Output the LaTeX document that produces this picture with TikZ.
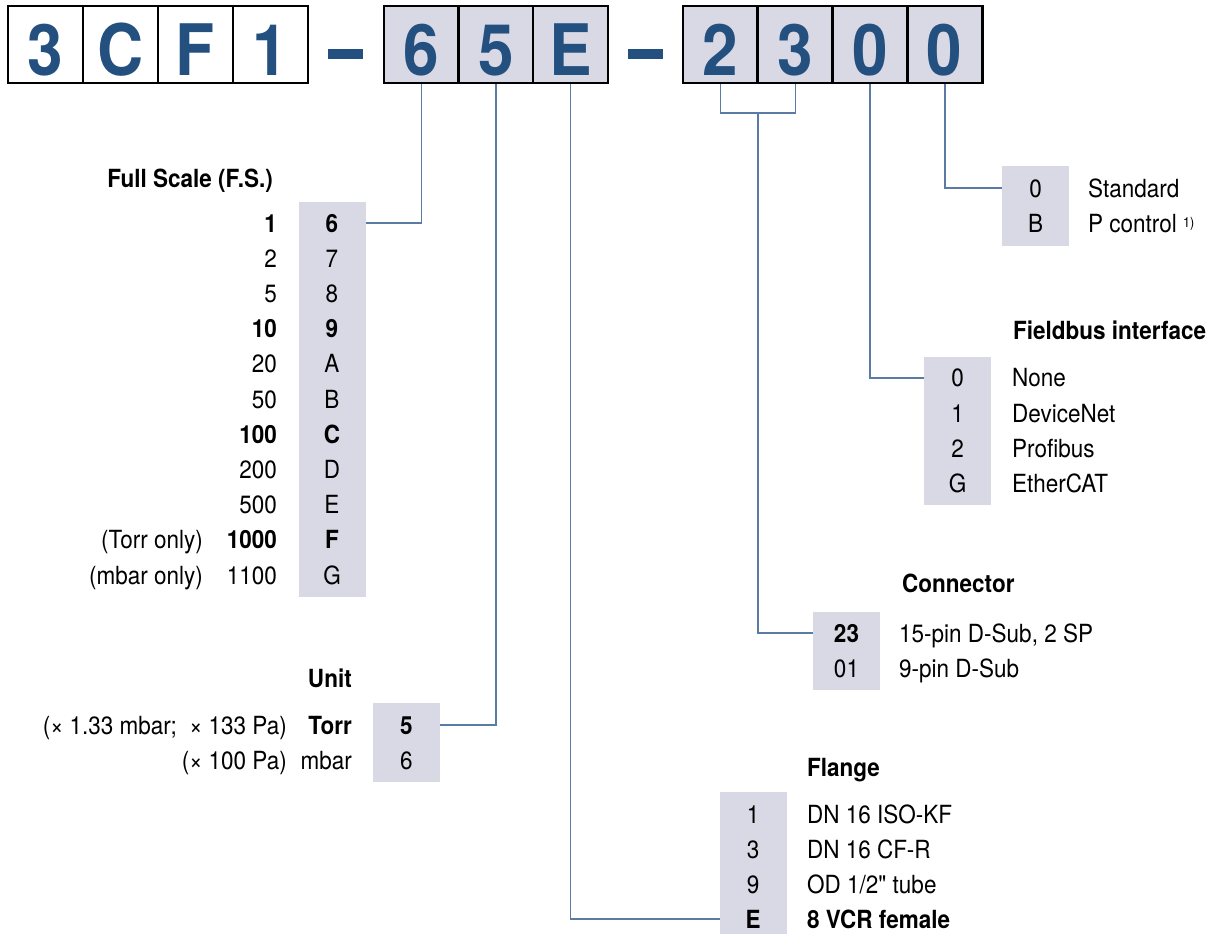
\documentclass[tikz,border=0pt]{standalone}
\usepackage{fontspec}
\setmainfont{TeX Gyre Heros}[FakeStretch=0.9]
\newfontfamily\rawfont{TeX Gyre Heros}[FakeStretch=0.9,Ligatures=TeXOff]
\definecolor{codeblue}{HTML}{23507F}
\definecolor{boxfill}{HTML}{D9D8E5}
\definecolor{leadblue}{HTML}{5A7BA5}

\begin{document}
\fontsize{25}{30}\selectfont
\begin{tikzpicture}[x=1pt,y=-1pt,
  hbox/.style={draw,line width=2.6pt,minimum width=75pt,minimum height=77pt,inner sep=0pt,
    text height=63pt,text depth=0pt,text=codeblue,font=\fontsize{71}{71}\selectfont\bfseries},
  optbox/.style={fill=boxfill,inner sep=0pt,minimum width=67pt,anchor=north west},
  row/.style={inner sep=0pt,text height=18pt,text depth=0pt},
  head/.style={row,font=\bfseries},
  lead/.style={leadblue,line width=1.5pt}]
\useasboundingbox (0,0) rectangle (1213,934);

% order code
\foreach \d [count=\i] in {3,C,F,1}
  \node[hbox,fill=white] (h\i) at ({-29.5+75*\i},44.5) {\d};
\foreach \d [count=\i from 5] in {6,5,E}
  \node[hbox,fill=boxfill] (h\i) at ({421.5+74.5*(\i-5)},44.5) {\d};
\foreach \d [count=\i from 8] in {2,3,0,0}
  \node[hbox,fill=boxfill] (h\i) at ({720.5+74.75*(\i-8)},44.5) {\d};
\draw[codeblue,line width=10pt] (328,54) -- (363,54);
\draw[codeblue,line width=10pt] (628,54) -- (663,54);

% full scale
\node[head,anchor=east] (fstitle) at (273,178) {Full Scale (F.S.)};
\node[optbox,minimum height=395pt] (fsbox) at (299,202) {};
\foreach \v/\c/\f [count=\i] in {1/6/\bfseries,2/7/\mdseries,5/8/\mdseries,10/9/\bfseries,
    20/A/\mdseries,50/B/\mdseries,100/C/\bfseries,200/D/\mdseries,500/E/\mdseries,
    1000/F/\bfseries,1100/G/\mdseries} {
  \node[row,font=\f] (fsc\i) at (332,{187.8+35.2*\i}) {\c};
  \node[row,font=\f,anchor=east] (fsv\i) at (277,{187.8+35.2*\i}) {\v};
}
\node[row,anchor=east] (fsn10) at (203,539.8) {(Torr only)};
\node[row,anchor=east] (fsn11) at (203,575) {(mbar only)};
\draw[lead] (fsbox.east |- fsc1) -| (h5.south);

% unit
\node[head,anchor=east] (utitle) at (352,678) {Unit};
\node[optbox,minimum height=79pt] (ubox) at (373,703) {};
\node[row,font=\bfseries] (uc1) at (406.5,725) {5};
\node[row] (uc2) at (406.5,760) {6};
\node[row,font=\bfseries,anchor=east] (uv1) at (352,725) {Torr};
\node[row,anchor=east] (uv2) at (352,760) {mbar};
\node[row,anchor=east] (un1) at (287,725) {(× 1.33 mbar;\ \ × 133 Pa)};
\node[row,anchor=east] (un2) at (287,760) {(× 100 Pa)};
\draw[lead] (ubox.east |- uc1) -| (h6.south);

% flange
\node[head,anchor=west] (fltitle) at (807,767) {Flange};
\node[optbox,minimum height=142pt] (flbox) at (720,792) {};
\node[row] (flc1) at (753,814) {1};
\node[row] (flc2) at (753,849) {3};
\node[row] (flc3) at (753,884) {9};
\node[row,font=\bfseries] (flc4) at (753,919) {E};
\node[row,anchor=west] (flt1) at (807,814) {DN 16 ISO-KF};
\node[row,anchor=west] (flt2) at (807,849) {DN 16 CF-R};
\node[row,anchor=west] (flt3) at (807,884) {OD 1/2{\rawfont"} tube};
\node[row,anchor=west,font=\bfseries] (flt4) at (807,919) {8 VCR female};
\draw[lead] (h7.south) |- (flbox.west |- flc4);

% connector
\node[head,anchor=west] (cotitle) at (902,583) {Connector};
\node[optbox,minimum height=78pt] (cobox) at (813,612) {};
\node[row,font=\bfseries] (coc1) at (846.5,633) {23};
\node[row] (coc2) at (846.5,668) {01};
\node[row,anchor=west] (cot1) at (899,633) {15-pin D-Sub, 2 SP};
\node[row,anchor=west] (cot2) at (899,668) {9-pin D-Sub};
\coordinate (brk) at (758,113);
\draw[lead] (h8.south) |- (brk) -| (h9.south);
\draw[lead] (brk) |- (cobox.west |- coc1);

% fieldbus
\node[head,anchor=west] (fbtitle) at (1013,330) {Fieldbus interface};
\node[optbox,minimum height=148pt] (fbbox) at (924,357) {};
\foreach \c/\t [count=\i] in {0/None,1/DeviceNet,2/Profibus,G/EtherCAT} {
  \node[row] (fbc\i) at (957.5,{342.5+35.25*\i}) {\c};
  \node[row,anchor=west] (fbt\i) at (1012,{342.5+35.25*\i}) {\t};
}
\draw[lead] (h10.south) |- (fbbox.west |- fbc1);

% standard
\node[optbox,minimum height=80pt] (stbox) at (1002,166) {};
\node[row] (stc1) at (1035.5,188) {0};
\node[row] (stc2) at (1035.5,223) {B};
\node[row,anchor=west] (stt1) at (1088,188) {Standard};
\node[row,anchor=west] (stt2) at (1088,223) {P control {\fontsize{14}{14}\selectfont\raisebox{5pt}{1)}}};
\draw[lead] (h11.south) |- (stbox.west |- stc1);
\end{tikzpicture}
\end{document}
